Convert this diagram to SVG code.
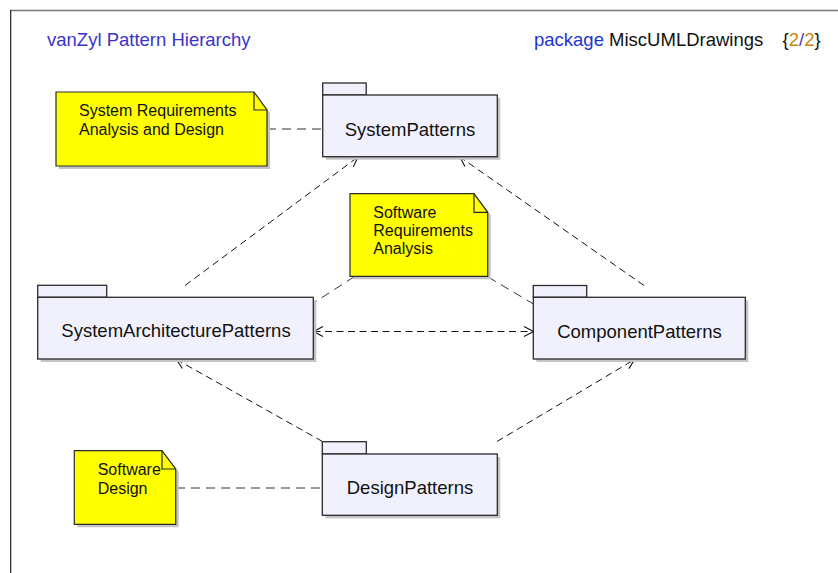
<svg xmlns="http://www.w3.org/2000/svg" width="838" height="573" viewBox="0 0 838 573">
<style>
  text { font-family: "Liberation Sans", Arial, sans-serif; }
  .pkg { fill: #f1f1fe; stroke: #2a2a2a; stroke-width: 1.3; }
  .shadow { fill: #c4c4c4; stroke: none; }
  .note { fill: #ffff00; stroke: #2a2a2a; stroke-width: 1.2; }
  .fold { fill: none; stroke: #2a2a2a; stroke-width: 1.2; }
  .pname { font-size: 18.5px; fill: #111; text-anchor: middle; }
  .ntext { font-size: 16px; fill: #111; }
  .dep { fill: none; stroke: #111; stroke-width: 1; stroke-dasharray: 7 4.5; }
  .link { fill: none; stroke: #333; stroke-width: 1; stroke-dasharray: 9 6; }
</style>
<defs>
  <marker id="open" viewBox="-11 -7 13 14" refX="0" refY="0" markerWidth="13" markerHeight="14" markerUnits="userSpaceOnUse" orient="auto-start-reverse">
    <path d="M -9.5 -5 L 0 0 L -9.5 5" fill="none" stroke="#111" stroke-width="1.1"/>
  </marker>
</defs>
<rect x="0" y="0" width="838" height="573" fill="#ffffff"/>
<g id="frame">
  <line x1="10" y1="10.5" x2="838" y2="10.5" stroke="#777" stroke-width="1.3"/>
  <line x1="10.7" y1="10" x2="10.7" y2="573" stroke="#222" stroke-width="1.2"/>
</g>
<g id="header">
  <text x="47" y="46" font-size="18.5" fill="#3c34c8">vanZyl Pattern Hierarchy</text>
  <text x="534" y="46" font-size="18.5"><tspan fill="#1c36d0">package </tspan><tspan fill="#111">MiscUMLDrawings</tspan><tspan x="782.5" fill="#111">{</tspan><tspan fill="#c8860b">2</tspan><tspan fill="#5040c0">/</tspan><tspan fill="#c8860b">2</tspan><tspan fill="#111">}</tspan></text>
</g>
<g id="connectors">
  <line class="link" x1="267" y1="129" x2="322.5" y2="129"/>
  <line class="link" x1="176" y1="488" x2="322.5" y2="488"/>
  <line class="link" x1="354.5" y1="276.5" x2="313.5" y2="303"/>
  <line class="link" x1="488" y1="277" x2="533.5" y2="304"/>
  <line class="dep" x1="185" y1="285.5" x2="358" y2="157" marker-end="url(#open)"/>
  <line class="dep" x1="644" y1="285.5" x2="460" y2="157" marker-end="url(#open)"/>
  <line class="dep" x1="313.5" y1="331.5" x2="533.5" y2="331.5" marker-start="url(#open)" marker-end="url(#open)"/>
  <line class="dep" x1="322.5" y1="441.5" x2="176.5" y2="359.5" marker-end="url(#open)"/>
  <line class="dep" x1="497" y1="441.5" x2="634.5" y2="359.5" marker-end="url(#open)"/>
</g>
<g id="note-sysreq">
  <path class="shadow" d="M59,95 H257 L270,113 V169 H59 Z"/>
  <path class="note" d="M56,92 H254 L267,110 V166 H56 Z"/>
  <path class="fold" d="M254,92 V110 H267"/>
  <text class="ntext" x="79" y="116">System Requirements</text>
  <text class="ntext" x="79" y="134.7">Analysis and Design</text>
</g>
<g id="note-swreq">
  <path class="shadow" d="M353,196.7 H477 L490.7,215.3 V279.3 H353 Z"/>
  <path class="note" d="M350,193.7 H474 L487.7,212.3 V276.3 H350 Z"/>
  <path class="fold" d="M474,193.7 V212.3 H487.7"/>
  <text class="ntext" x="373.3" y="217.7">Software</text>
  <text class="ntext" x="373.3" y="235.7">Requirements</text>
  <text class="ntext" x="373.3" y="253.7">Analysis</text>
</g>
<g id="note-swdesign">
  <path class="shadow" d="M77.3,453.7 H165 L178.7,472 V527.3 H77.3 Z"/>
  <path class="note" d="M74.3,450.7 H162 L175.7,469 V524.3 H74.3 Z"/>
  <path class="fold" d="M162,450.7 V469 H175.7"/>
  <text class="ntext" x="97.7" y="475">Software</text>
  <text class="ntext" x="97.7" y="494">Design</text>
</g>
<g id="pkg-SystemPatterns">
  <rect class="shadow" x="325.7" y="98" width="174.6" height="61.7"/>
  <rect class="pkg" x="322.7" y="83" width="43.5" height="12"/>
  <rect class="pkg" x="322.7" y="95" width="174.6" height="61.7"/>
  <text class="pname" x="410" y="135.5">SystemPatterns</text>
</g>
<g id="pkg-SystemArchitecturePatterns">
  <rect class="shadow" x="40.7" y="300.3" width="275.6" height="61.7"/>
  <rect class="pkg" x="37.7" y="285.3" width="69" height="12"/>
  <rect class="pkg" x="37.7" y="297.3" width="275.6" height="61.7"/>
  <text class="pname" x="176" y="337.3">SystemArchitecturePatterns</text>
</g>
<g id="pkg-ComponentPatterns">
  <rect class="shadow" x="536.3" y="300.3" width="212" height="61.7"/>
  <rect class="pkg" x="533.3" y="285.5" width="53.4" height="11.8"/>
  <rect class="pkg" x="533.3" y="297.3" width="212" height="61.7"/>
  <text class="pname" x="639.5" y="337.5">ComponentPatterns</text>
</g>
<g id="pkg-DesignPatterns">
  <rect class="shadow" x="325.3" y="457" width="175" height="61.3"/>
  <rect class="pkg" x="322.3" y="441.7" width="44" height="12.3"/>
  <rect class="pkg" x="322.3" y="454" width="175" height="61.3"/>
  <text class="pname" x="410" y="494">DesignPatterns</text>
</g>
</svg>
